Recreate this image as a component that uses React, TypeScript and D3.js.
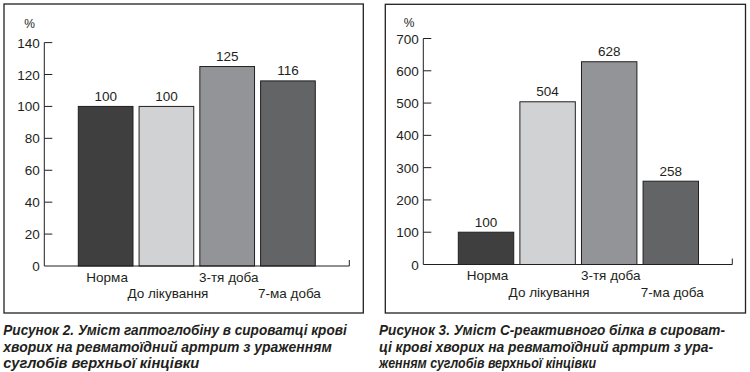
import React from "react";
import * as d3 from "d3";

const categories = ["Норма", "До лікування", "3-тя доба", "7-ма доба"];
const haptoglobin = [100, 100, 125, 116];
const crp = [100, 504, 628, 258];
const leftTicks = [0, 20, 40, 60, 80, 100, 120, 140];
const rightTicks = [0, 100, 200, 300, 400, 500, 600, 700];
const barColors = ["#3f3f40", "#d1d2d4", "#929497", "#636466"];
const leftCaption = [
  "Рисунок 2. Уміст гаптоглобіну в сироватці крові",
  "хворих на ревматоїдний артрит з ураженням",
  "суглобів верхньої кінцівки",
];
const rightCaption = [
  "Рисунок 3. Уміст С-реактивного білка в сироват-",
  "ці крові хворих на ревматоїдний артрит з ура-",
  "женням суглобів верхньої кінцівки",
];

const INK = "#231f20";
const FONT = "'Liberation Sans', Arial, Helvetica, sans-serif";

type PanelProps = {
  values: number[];
  ticks: number[];
  axisX: number;
  axisEnd: number;
  y0: number;
  yTop: number;
  barStart: number;
  barEnd: number;
  pctX: number;
  pctY: number;
};

function Panel(p: PanelProps) {
  const max = p.ticks[p.ticks.length - 1];
  const y = d3.scaleLinear().domain([0, max]).range([p.y0, p.yTop]);
  const x = d3
    .scaleBand<string>()
    .domain(categories)
    .range([p.barStart, p.barEnd])
    .paddingInner(0.1)
    .paddingOuter(0);
  const bw = x.bandwidth();
  return (
    <g fontFamily={FONT} fill={INK}>
      {categories.map((c, i) => (
        <rect
          key={c}
          x={x(c)}
          y={y(p.values[i])}
          width={bw}
          height={p.y0 - y(p.values[i])}
          fill={barColors[i]}
          stroke={INK}
          strokeWidth={1}
        />
      ))}
      {categories.map((c, i) => (
        <text
          key={"v" + c}
          x={(x(c) as number) + bw / 2}
          y={y(p.values[i]) - 5.5}
          textAnchor="middle"
          fontSize={13.5}
        >
          {p.values[i]}
        </text>
      ))}
      {categories.map((c, i) => (
        <text
          key={"c" + c}
          x={(x(c) as number) + bw / 2 + 1.5}
          y={i % 2 === 0 ? p.y0 + 15.5 : p.y0 + 32}
          textAnchor="middle"
          fontSize={13.5}
        >
          {c}
        </text>
      ))}
      <line x1={p.axisX} x2={p.axisX} y1={y(max)} y2={p.y0} stroke={INK} strokeWidth={1} />
      <line x1={p.axisX} x2={p.axisEnd} y1={p.y0} y2={p.y0} stroke={INK} strokeWidth={1} />
      <line x1={p.axisEnd} x2={p.axisEnd} y1={p.y0} y2={p.y0 - 6} stroke={INK} strokeWidth={1} />
      {p.ticks.map((t) => (
        <g key={t}>
          {t > 0 && (
            <line x1={p.axisX} x2={p.axisX + 8} y1={y(t)} y2={y(t)} stroke={INK} strokeWidth={1} />
          )}
          <text x={p.axisX - 4.5} y={y(t) + 5} textAnchor="end" fontSize={13.5}>
            {t}
          </text>
        </g>
      ))}
      <text x={p.pctX} y={p.pctY} textAnchor="middle" fontSize={12}>
        %
      </text>
    </g>
  );
}

function Caption({ lines, x, ends }: { lines: string[]; x: number; ends: number[] }) {
  const baselines = [334.5, 351.5, 368];
  return (
    <g fontFamily={FONT} fontWeight="bold" fontStyle="italic" fill={INK} fontSize={14}>
      {lines.map((l, i) => (
        <text key={i} x={x} y={baselines[i]} textLength={ends[i] - x} lengthAdjust="spacingAndGlyphs">
          {l}
        </text>
      ))}
    </g>
  );
}

export default function App() {
  return (
    <div style={{ position: "absolute", left: 0, top: 0, width: 750, height: 372, background: "#fff" }}>
      <svg width={750} height={372} viewBox="0 0 750 372">
        <rect x={0} y={0} width={750} height={372} fill="#fff" />
        <rect x={4} y={4} width={359.3} height={309} fill="none" stroke={INK} strokeWidth={1.3} />
        <rect x={385.3} y={4.3} width={360.2} height={308.7} fill="none" stroke={INK} strokeWidth={1.3} />
        <Panel
          values={haptoglobin}
          ticks={leftTicks}
          axisX={44.3}
          axisEnd={349.3}
          y0={266}
          yTop={42.6}
          barStart={78.3}
          barEnd={315.3}
          pctX={29.5}
          pctY={28.3}
        />
        <Panel
          values={crp}
          ticks={rightTicks}
          axisX={423.3}
          axisEnd={732.3}
          y0={264.5}
          yTop={38.5}
          barStart={458.3}
          barEnd={698.5}
          pctX={409}
          pctY={26.7}
        />
        <Caption lines={leftCaption} x={3.3} ends={[346.7, 331.7, 199.3]} />
        <Caption lines={rightCaption} x={379} ends={[725, 713, 596]} />
      </svg>
    </div>
  );
}
